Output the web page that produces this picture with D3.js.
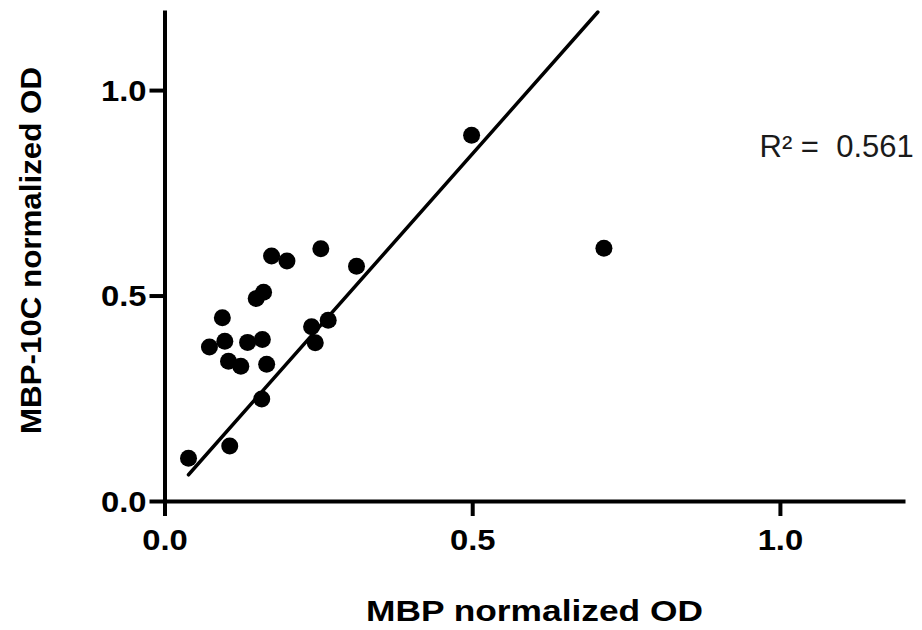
<!DOCTYPE html>
<html>
<head>
<meta charset="utf-8">
<script src="https://cdn.jsdelivr.net/npm/d3@7"></script>
<style>
  html, body { margin: 0; padding: 0; background: #fff; }
  svg { display: block; }
</style>
</head>
<body>
<svg id="chart" width="922" height="630"></svg>
<script>
// Paired normalized OD readings (MBP vs MBP-10C)
const mbpOD = [0.039, 0.106, 0.158, 0.073, 0.098, 0.094, 0.104, 0.124, 0.135, 0.159, 0.166,
               0.149, 0.161, 0.174, 0.199, 0.254, 0.239, 0.266, 0.245, 0.312, 0.499, 0.714];
const mbp10cOD = [0.104, 0.134, 0.248, 0.375, 0.389, 0.446, 0.340, 0.328, 0.386, 0.393, 0.333,
                  0.493, 0.508, 0.596, 0.584, 0.614, 0.424, 0.440, 0.385, 0.571, 0.890, 0.615];

// Fitted line and its goodness of fit
const fitCoefficients = [1.693, -0.0022];   // [slope, intercept]
const rSquared = 0.561;

// Axis ticks and extents
const xTickValues = [0.0, 0.5, 1.0];
const yTickValues = [0.0, 0.5, 1.0];
const xExtent = [0, 1.2];
const yExtent = [0, 1.19];

const svg = d3.select("#chart");
const boldFont = "'Liberation Sans', Arial, sans-serif";

const x = d3.scaleLinear().domain(xExtent).range([164.5, 903]);
const y = d3.scaleLinear().domain(yExtent).range([501, 12]);

// X axis
const xAxisG = svg.append("g")
  .attr("transform", `translate(0,${y(0)})`)
  .call(d3.axisBottom(x).tickValues(xTickValues).tickFormat(d3.format(".1f"))
        .tickSize(15).tickSizeOuter(0));

// Y axis
const yAxisG = svg.append("g")
  .attr("transform", `translate(${x(0)},0)`)
  .call(d3.axisLeft(y).tickValues(yTickValues).tickFormat(d3.format(".1f"))
        .tickSize(15).tickSizeOuter(0));

[xAxisG, yAxisG].forEach(g => {
  g.select(".domain").attr("stroke", "#000").attr("stroke-width", 4).attr("stroke-linecap", "square");
  g.selectAll(".tick line").attr("stroke", "#000").attr("stroke-width", 4);
  g.selectAll(".tick text")
    .attr("fill", "#000")
    .style("font-family", boldFont)
    .style("font-weight", "bold")
    .style("font-size", "29px");
});

xAxisG.selectAll(".tick text").attr("y", 48.5).attr("dy", null);
yAxisG.selectAll(".tick text").attr("x", -18).attr("dy", "0.35em");

// widen the tick labels slightly
svg.selectAll(".tick text").each(function () {
  const w = this.getComputedTextLength();
  d3.select(this).attr("textLength", w * 1.13).attr("lengthAdjust", "spacingAndGlyphs");
});

// Fitted line, from the smallest x up to the top of the plot
const [slope, intercept] = fitCoefficients;
const fx0 = d3.min(mbpOD);
const fx1 = Math.min(d3.max(mbpOD), (yExtent[1] - intercept) / slope);
svg.append("line")
  .attr("x1", x(fx0)).attr("y1", y(slope * fx0 + intercept))
  .attr("x2", x(fx1)).attr("y2", y(slope * fx1 + intercept))
  .attr("stroke", "#000")
  .attr("stroke-width", 3.5)
  .attr("stroke-linecap", "round");

// Data points
svg.append("g").selectAll("circle")
  .data(d3.zip(mbpOD, mbp10cOD))
  .join("circle")
  .attr("cx", d => x(d[0]))
  .attr("cy", d => y(d[1]))
  .attr("r", 8.5)
  .attr("fill", "#000");

// Axis titles
svg.append("text")
  .attr("x", 534.5).attr("y", 621)
  .attr("text-anchor", "middle")
  .attr("textLength", 337).attr("lengthAdjust", "spacingAndGlyphs")
  .style("font-family", boldFont).style("font-weight", "bold").style("font-size", "29px")
  .attr("fill", "#000")
  .text("MBP normalized OD");

svg.append("text")
  .attr("transform", "translate(41,250.5) rotate(-90)")
  .attr("text-anchor", "middle")
  .attr("textLength", 367).attr("lengthAdjust", "spacingAndGlyphs")
  .style("font-family", boldFont).style("font-weight", "bold").style("font-size", "29px")
  .attr("fill", "#000")
  .text("MBP-10C normalized OD");

// R² annotation
svg.append("text")
  .attr("x", 759.5).attr("y", 157)
  .style("font-family", "'Liberation Sans', Arial, sans-serif")
  .style("font-size", "31px")
  .style("white-space", "pre")
  .attr("fill", "#1a1a1a")
  .text("R\u00B2 =  " + rSquared.toFixed(3));
</script>
</body>
</html>
